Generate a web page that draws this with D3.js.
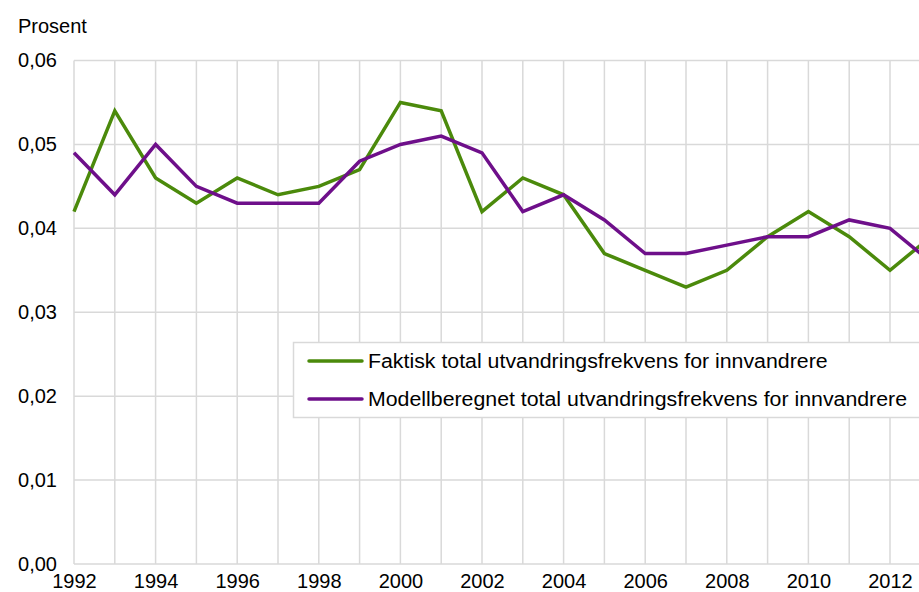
<!DOCTYPE html>
<html>
<head>
<meta charset="utf-8">
<script src="https://cdn.jsdelivr.net/npm/d3@7"></script>
<style>
  html, body { margin: 0; padding: 0; background: #fff; overflow: hidden; }
  svg { display: block; font-family: "Liberation Sans", Arial, sans-serif; }
</style>
</head>
<body>
<div id="chart"></div>
<script>
// Data
const years = d3.range(1992, 2014);
const faktisk = [0.042, 0.054, 0.046, 0.043, 0.046, 0.044, 0.045, 0.047, 0.055, 0.054, 0.042,
                 0.046, 0.044, 0.037, 0.035, 0.033, 0.035, 0.039, 0.042, 0.039, 0.035, 0.039];
const modell = [0.049, 0.044, 0.050, 0.045, 0.043, 0.043, 0.043, 0.048, 0.050, 0.051, 0.049,
                0.042, 0.044, 0.041, 0.037, 0.037, 0.038, 0.039, 0.039, 0.041, 0.040, 0.036];
const yTicks = [0, 0.01, 0.02, 0.03, 0.04, 0.05, 0.06];
const xTicks = d3.range(1992, 2013, 2);
const seriesNames = ["Faktisk total utvandringsfrekvens for innvandrere",
                     "Modellberegnet total utvandringsfrekvens for innvandrere"];
const colors = ["#4b8a0b", "#6e0f8a"];

const width = 919;
const height = 592;

const svg = d3.select("#chart")
    .append("svg")
    .attr("width", width)
    .attr("height", height);

// Scales (the plot runs a little past the right edge, like the original)
const x = d3.scaleLinear().domain([1992, 2013]).range([74, 74 + 21 * 40.8]);
const y = d3.scaleLinear().domain([0, 0.06]).range([564, 60.5]);

const fmt = v => d3.format(".2f")(v).replace(".", ",");

// Grid
const grid = svg.append("g").attr("stroke", "#d9d9d9").attr("stroke-width", 1.5);
grid.selectAll(".vgrid")
    .data(years)
    .enter().append("line")
    .attr("x1", d => x(d)).attr("x2", d => x(d))
    .attr("y1", y(0.06)).attr("y2", y(0));
grid.selectAll(".hgrid")
    .data(yTicks)
    .enter().append("line")
    .attr("x1", x(1992)).attr("x2", width + 20)
    .attr("y1", d => y(d)).attr("y2", d => y(d));

// Y axis labels
const yAxis = svg.append("g")
    .attr("transform", `translate(${x(1992)},0)`)
    .call(d3.axisLeft(y).tickValues(yTicks).tickFormat(fmt).tickSize(0).tickPadding(17));
yAxis.select(".domain").remove();
yAxis.selectAll("text")
    .style("font-size", "20px")
    .style("font-family", "Liberation Sans, Arial, sans-serif")
    .attr("fill", "#000");

// X axis labels
const xAxis = svg.append("g")
    .attr("transform", `translate(0,${y(0)})`)
    .call(d3.axisBottom(x).tickValues(xTicks).tickFormat(d3.format("d")).tickSize(0).tickPadding(10));
xAxis.select(".domain").remove();
xAxis.selectAll("text")
    .style("font-size", "20px")
    .style("font-family", "Liberation Sans, Arial, sans-serif")
    .attr("fill", "#000");

// Unit label
svg.append("text")
    .attr("x", 18)
    .attr("y", 33)
    .style("font-size", "20px")
    .attr("fill", "#000")
    .text("Prosent");

// Lines
const line = d3.line()
    .x((d, i) => x(years[i]))
    .y(d => y(d));

[faktisk, modell].forEach((s, i) => {
    svg.append("path")
        .datum(s)
        .attr("d", line)
        .attr("fill", "none")
        .attr("stroke", colors[i])
        .attr("stroke-width", 3.5)
        .attr("stroke-linejoin", "miter");
});

// Legend
const legend = svg.append("g");
legend.append("rect")
    .attr("x", 293.5)
    .attr("y", 342.5)
    .attr("width", 660)
    .attr("height", 75)
    .attr("fill", "#fff")
    .attr("stroke", "#d9d9d9")
    .attr("stroke-width", 1.5);

const items = legend.selectAll(".legend")
    .data(seriesNames)
    .enter().append("g")
    .attr("class", "legend")
    .attr("transform", (d, i) => `translate(309,${361 + i * 38})`);

items.append("line")
    .attr("x1", 0).attr("x2", 53)
    .attr("stroke", (d, i) => colors[i])
    .attr("stroke-width", 3.5)
    .attr("stroke-linecap", "round");

const labels = items.append("text")
    .attr("x", 59)
    .attr("dy", "0.35em")
    .style("font-size", "20px")
    .attr("fill", "#000")
    .text(d => d);

// stretch legend text a little so the longest label spans like the original
const longest = d3.max(labels.nodes(), n => n.getComputedTextLength());
const k = 539 / longest;
labels.each(function() {
    const len = this.getComputedTextLength();
    d3.select(this)
        .attr("textLength", len * k)
        .attr("lengthAdjust", "spacingAndGlyphs");
});
</script>
</body>
</html>
